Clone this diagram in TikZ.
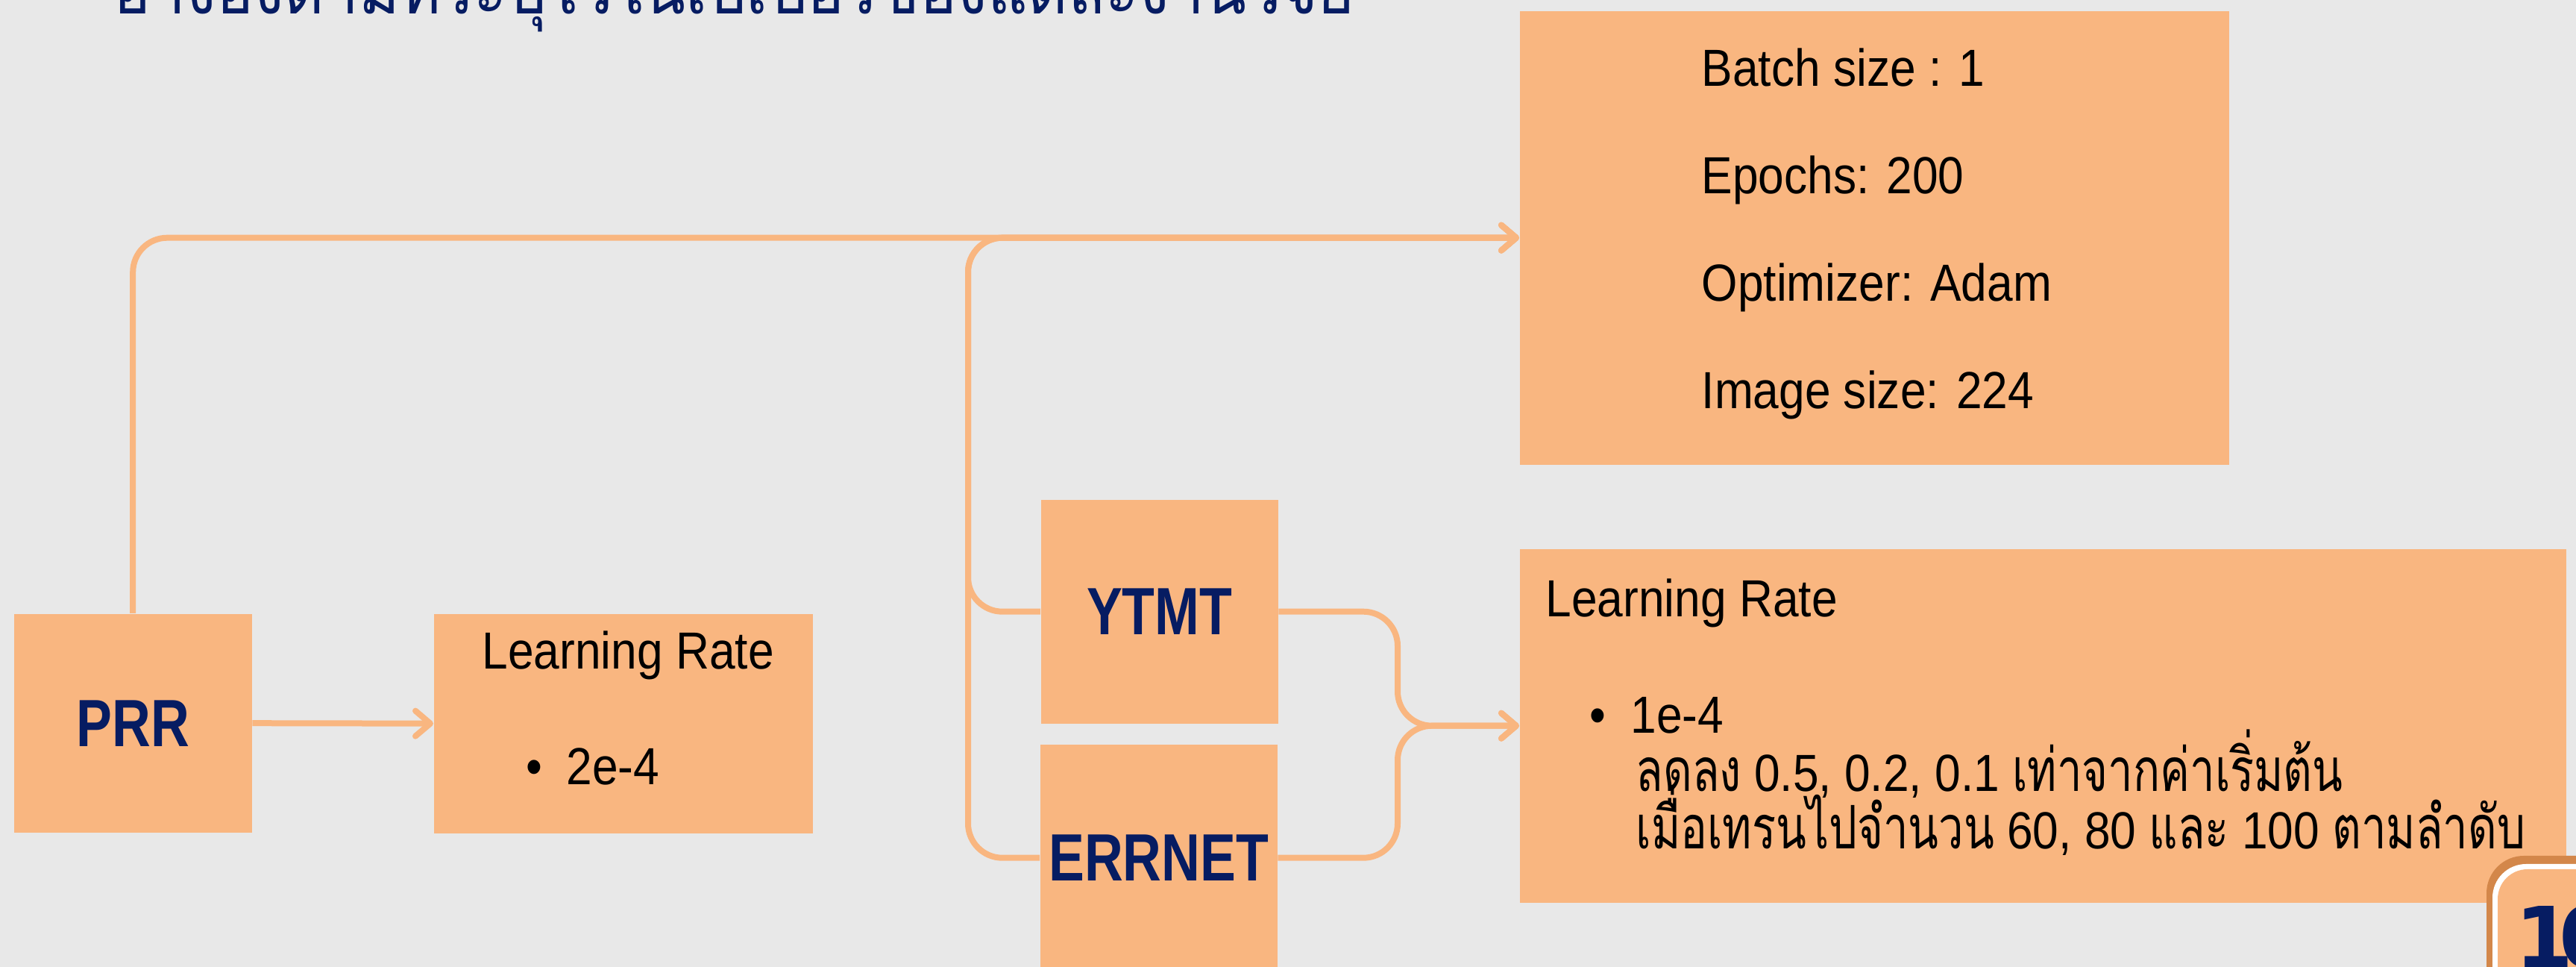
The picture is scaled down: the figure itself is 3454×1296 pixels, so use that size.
\documentclass[tikz,border=0pt]{standalone}
\usepackage{fontspec}
\setmainfont{Liberation Sans}[FakeStretch=0.89]
\newfontfamily\thaifont{Loma}[Script=Thai,Scale=1.15,FakeStretch=0.743]
\newfontfamily\headfont{Loma}[Script=Thai,FakeStretch=0.89]
\newfontfamily\tagfont{Liberation Sans}[FakeStretch=0.8]
\newfontfamily\numfont{DejaVu Sans}
\usetikzlibrary{arrows.meta}
\definecolor{bgray}{RGB}{232,232,232}
\definecolor{peach}{RGB}{249,182,128}
\definecolor{navy}{RGB}{6,28,98}
\definecolor{rust}{RGB}{211,135,74}
\begin{document}
\begin{tikzpicture}[x=0.1mm,y=-0.1mm,
  box/.style={fill=peach, draw=none, inner sep=0pt, anchor=north west},
  tag/.style={box, font=\tagfont\bfseries\fontsize{25.5}{25.5}\selectfont, text=navy},
  body/.style={font=\fontsize{19.9}{24}\selectfont, inner sep=0pt, anchor=base west},
  conn/.style={draw=peach, line width=0.8mm, rounded corners=4.6mm,
    -{Straight Barb[length=2mm,width=3.4mm,line cap=round,line join=round]}},
]
% canvas
\fill[bgray] (0,0) rectangle (3454,1296);
\useasboundingbox (0,0) rectangle (3454,1296);

% heading, running off the top edge
\node[anchor=base west, inner sep=0pt, text=navy,
      font=\headfont\fontsize{26.6}{26.6}\selectfont] (title) at (152,19)
  {อ้างอิงตามที่ระบุไว้ในเปเปอร์ของแต่ละงานวิจัย};

% boxes
\node[tag, minimum width=31.9mm, minimum height=29.3mm] (prr) at (18,822) {PRR};
\node[box, minimum width=50.8mm, minimum height=29.4mm] (lrA) at (581,822) {};
\node[tag, minimum width=31.8mm, minimum height=30mm] (ytmt) at (1395,669) {YTMT};
\node[tag, minimum width=31.8mm, minimum height=30.4mm] (errnet) at (1394,997) {ERRNET};
\node[box, minimum width=95.1mm, minimum height=60.8mm] (hyper) at (2037,14) {};
\node[box, minimum width=140.3mm, minimum height=47.4mm] (lrB) at (2037,735) {};

% shared settings
\node[body] (bs) at (2281,116) {Batch size : 1};
\node[body] (ep) at (2281,260) {Epochs: 200};
\node[body] (op) at (2281,404) {Optimizer: Adam};
\node[body] (im) at (2281,548) {Image size: 224};

% PRR learning rate
\node[body] (lrAt) at (646,897) {Learning Rate};
\node[body] (lrAd) at (705,1052) {•};
\node[body] (lrAv) at (759,1052) {2e-4};

% YTMT / ERRNET learning rate
\node[body] (lrBt) at (2072,827) {Learning Rate};
\node[body] (lrBd) at (2131,983) {•};
\node[body] (lrBv) at (2186,983) {1e-4};
\node[body] (lrBl1) at (2193,1061) {{\thaifont ลดลง} 0.5, 0.2, 0.1 {\thaifont เท่าจากค่าเริ่มต้น}};
\node[body] (lrBl2) at (2193,1138) {{\thaifont เมื่อเทรนไปจำนวน} 60, 80 {\thaifont และ} 100 {\thaifont ตามลำดับ}};

% page badge
\fill[rust, rounded corners=5mm] (3334,1147) rectangle (3600,1450);
\fill[white, rounded corners=4.5mm] (3342,1158) rectangle (3600,1450);
\fill[peach, rounded corners=4mm] (3349,1165) rectangle (3600,1450);
\node[anchor=base west, inner sep=0pt, text=navy,
      font=\numfont\bfseries\fontsize{32}{32}\selectfont] (pagenum) at (3372,1297) {1\kern-2mm 0};

% connectors
\coordinate (jl) at (1298,0);
\coordinate (jr) at (1874,0);
\draw[conn] (prr.north) |- (hyper.west);
\draw[conn] (ytmt.west) -- (ytmt.west -| jl) |- (hyper.west);
\draw[conn] (errnet.west) -- (errnet.west -| jl) |- (hyper.west);
\draw[conn] (prr.east) -- (lrA.west);
\draw[conn] (ytmt.east) -- (ytmt.east -| jr) |- (lrB.west);
\draw[conn] (errnet.east) -- (errnet.east -| jr) |- (lrB.west);
\end{tikzpicture}
\end{document}
